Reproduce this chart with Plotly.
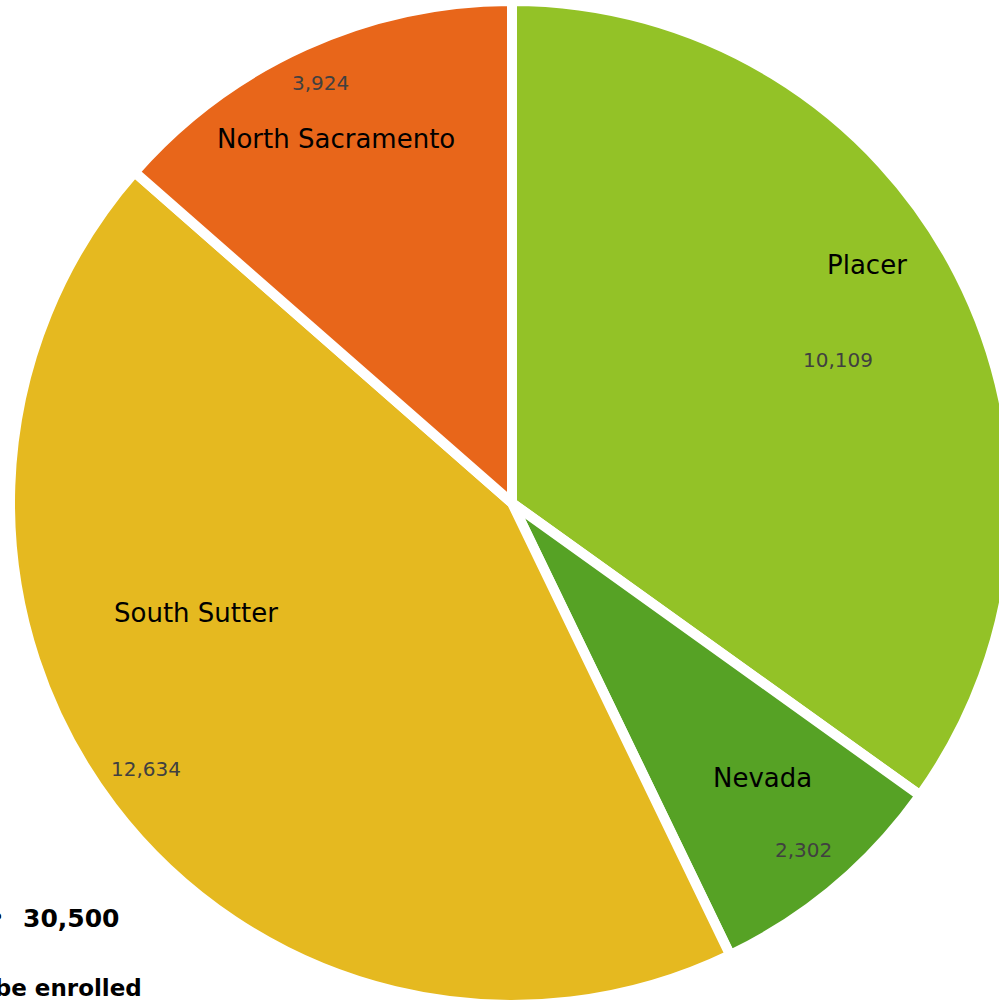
import plotly.graph_objects as go

# ---- data ----
regions = ["Placer", "Nevada", "South Sutter", "North Sacramento"]
enrolled = [10109, 2302, 12634, 3924]
value_labels = ["10,109", "2,302", "12,634", "3,924"]
goal_text = "30,500"
goal_caption = "to be enrolled"

# ---- style / layout ----
colors = ["#93C227", "#56A225", "#E5B920", "#E8661A"]
W, H = 1024, 1010
CX, CY, R = 512, 503, 502          # pie centre and radius in pixels

# label anchor points (pixels) for category names and values
name_pos = [(867, 265), (762, 778), (196, 613), (336, 139)]
value_pos = [(838, 360), (803, 850), (146, 769), (320, 83)]


def px(x):
    return x / W


def py(y):
    return 1 - y / H


fig = go.Figure(
    go.Pie(
        labels=regions,
        values=enrolled,
        sort=False,
        direction="clockwise",
        rotation=0,
        textinfo="none",
        hoverinfo="label+value",
        marker=dict(colors=colors, line=dict(color="white", width=10)),
        domain=dict(x=[px(CX - R), px(CX + R)], y=[py(CY + R), py(CY - R)]),
        showlegend=False,
    )
)

annotations = []
for name, val, (nx, ny), (vx, vy) in zip(regions, value_labels, name_pos, value_pos):
    annotations.append(dict(
        x=px(nx), y=py(ny), xref="paper", yref="paper", text=name,
        showarrow=False, xanchor="center", yanchor="middle",
        font=dict(family="DejaVu Sans", size=26, color="#000000"),
    ))
    annotations.append(dict(
        x=px(vx), y=py(vy), xref="paper", yref="paper", text=val,
        showarrow=False, xanchor="center", yanchor="middle",
        font=dict(family="DejaVu Sans", size=20, color="#404040"),
    ))

annotations.append(dict(
    x=px(7), y=py(917), xref="paper", yref="paper", text="•",
    showarrow=False, xanchor="right", yanchor="middle",
    font=dict(family="DejaVu Sans", size=25, color="#000000"),
))
annotations.append(dict(
    x=px(21), y=py(918), xref="paper", yref="paper", text=f"<b>{goal_text}</b>",
    showarrow=False, xanchor="left", yanchor="middle",
    font=dict(family="DejaVu Sans", size=25, color="#000000"),
))
annotations.append(dict(
    x=px(144), y=py(988), xref="paper", yref="paper", text=f"<b>{goal_caption}</b>",
    showarrow=False, xanchor="right", yanchor="middle",
    font=dict(family="DejaVu Sans", size=23, color="#000000"),
))

fig.update_layout(
    width=W,
    height=H,
    margin=dict(l=0, r=0, t=0, b=0),
    paper_bgcolor="white",
    plot_bgcolor="white",
    annotations=annotations,
)

fig.write_html(
    "out.html",
    config={"displayModeBar": False},
    post_script="document.body.style.margin='0';document.body.style.overflow='hidden';",
)
